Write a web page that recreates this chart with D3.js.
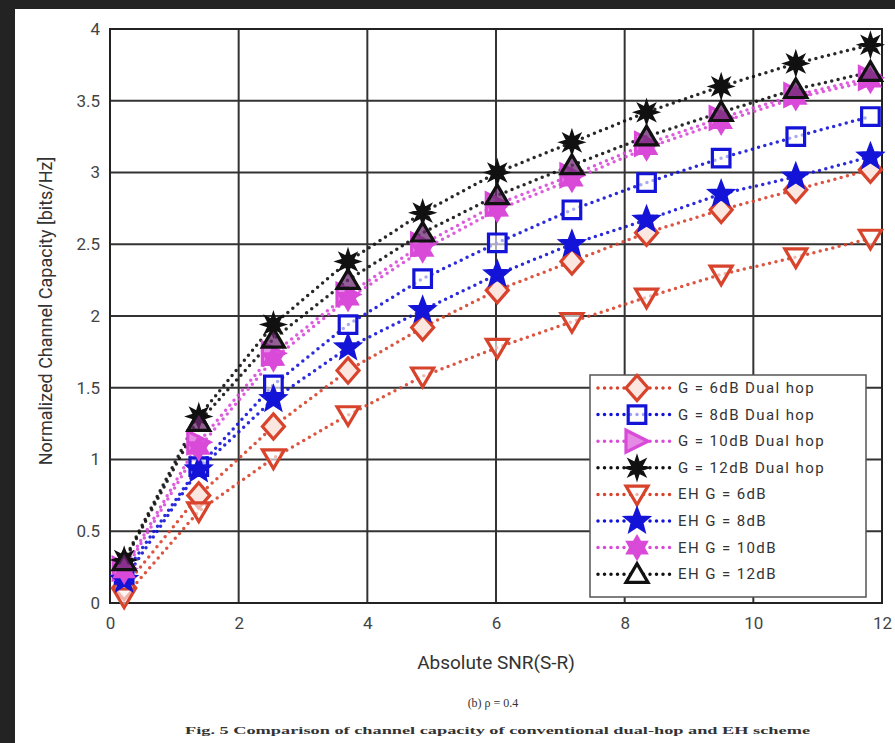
<!DOCTYPE html>
<html><head><meta charset="utf-8">
<script src="https://cdn.jsdelivr.net/npm/d3@7"></script>
<style>
html,body{margin:0;padding:0;background:#fff;}
svg{display:block;}
</style></head>
<body>
<svg id="c" width="895" height="743"></svg>
<script>
// ---- data ----
const snr = [0.22, 1.38, 2.54, 3.7, 4.86, 6.02, 7.18, 8.34, 9.5, 10.66, 11.82];
const dual6  = [0.11, 0.75, 1.23, 1.62, 1.92, 2.18, 2.38, 2.58, 2.74, 2.88, 3.02];
const dual8  = [0.20, 0.95, 1.52, 1.94, 2.26, 2.51, 2.74, 2.93, 3.10, 3.25, 3.39];
const dual10 = [0.24, 1.12, 1.74, 2.15, 2.50, 2.78, 2.98, 3.20, 3.38, 3.54, 3.66];
const dual12 = [0.30, 1.30, 1.94, 2.38, 2.72, 3.00, 3.21, 3.42, 3.60, 3.76, 3.89];
const eh6    = [0.04, 0.64, 1.01, 1.31, 1.58, 1.78, 1.96, 2.13, 2.29, 2.41, 2.54];
const eh8    = [0.16, 0.93, 1.42, 1.78, 2.04, 2.29, 2.50, 2.67, 2.85, 2.97, 3.11];
const eh10   = [0.22, 1.08, 1.70, 2.12, 2.46, 2.74, 2.95, 3.17, 3.35, 3.52, 3.64];
const eh12   = [0.29, 1.26, 1.84, 2.25, 2.58, 2.84, 3.05, 3.25, 3.42, 3.58, 3.70];
const seriesNames = ["G = 6dB Dual hop","G = 8dB Dual hop","G = 10dB Dual hop","G = 12dB Dual hop",
                     "EH G = 6dB","EH G = 8dB","EH G = 10dB","EH G = 12dB"];
const xTicks = [0, 2, 4, 6, 8, 10, 12];
const yTicks = [0, 0.5, 1, 1.5, 2, 2.5, 3, 3.5, 4];

const RED = "#d8432c", BLUE = "#1414d8", MAG = "#d94ad9", BLK = "#111";
const series = [
  {name: seriesNames[0], values: dual6,  color: RED,  marker: "diamond"},
  {name: seriesNames[1], values: dual8,  color: BLUE, marker: "square"},
  {name: seriesNames[2], values: dual10, color: MAG,  marker: "right"},
  {name: seriesNames[3], values: dual12, color: BLK,  marker: "asterisk"},
  {name: seriesNames[4], values: eh6,    color: RED,  marker: "down"},
  {name: seriesNames[5], values: eh8,    color: BLUE, marker: "star5"},
  {name: seriesNames[6], values: eh10,   color: MAG,  marker: "star6"},
  {name: seriesNames[7], values: eh12,   color: BLK,  marker: "up"}
];

const svg = d3.select("#c");
// dark frame of the photo
svg.append("rect").attr("width",895).attr("height",743).attr("fill","#232323");
svg.append("rect").attr("x",15).attr("y",9).attr("width",880).attr("height",734).attr("fill","#fff");

const L = 110, R = 882, T = 29, B = 603;
const x = d3.scaleLinear().domain([0,12]).range([L,R]);
const y = d3.scaleLinear().domain([0,4]).range([B,T]);

// grid
const g = svg.append("g");
g.selectAll(".gx").data(xTicks.slice(1,-1)).join("line")
  .attr("x1",d=>x(d)).attr("x2",d=>x(d)).attr("y1",T).attr("y2",B)
  .attr("stroke","#333").attr("stroke-width",2);
g.selectAll(".gy").data(yTicks.slice(1,-1)).join("line")
  .attr("x1",L).attr("x2",R).attr("y1",d=>y(d)).attr("y2",d=>y(d))
  .attr("stroke","#333").attr("stroke-width",2);

// axes
const fontTick = "Roboto, 'Liberation Sans', sans-serif";
const xAxis = d3.axisBottom(x).tickValues(xTicks).tickSize(0).tickPadding(14).tickFormat(d3.format("d"));
const yAxis = d3.axisLeft(y).tickValues(yTicks).tickSize(0).tickPadding(10).tickFormat(d=>d%1===0?d3.format("d")(d):d3.format(".1f")(d));
const gx = svg.append("g").attr("transform",`translate(0,${B})`).call(xAxis);
const gy = svg.append("g").attr("transform",`translate(${L},0)`).call(yAxis);
[gx,gy].forEach(a=>{
  a.select(".domain").remove();
  a.selectAll("text").attr("font-family",fontTick).attr("font-size",17).attr("fill","#444");
});
// box
svg.append("rect").attr("x",L).attr("y",T).attr("width",R-L).attr("height",B-T)
  .attr("fill","none").attr("stroke","#222").attr("stroke-width",2);

// marker shapes
function markerPath(type, s){
  const h = s/2;
  switch(type){
    case "diamond": return `M0,${-h*1.15}L${h},0L0,${h*1.15}L${-h},0Z`;
    case "square": return `M${-h*0.8},${-h*0.8}H${h*0.8}V${h*0.8}H${-h*0.8}Z`;
    case "right": return `M${h},0L${-h},${-h}L${-h},${h}Z`;
    case "down": return `M${-h},${-h*0.75}L${h},${-h*0.75}L0,${h*0.95}Z`;
    case "up": return `M${-h},${h*0.75}L${h},${h*0.75}L0,${-h*0.95}Z`;
    case "star5": { let p=""; for(let i=0;i<10;i++){const r=i%2?h*0.45:h*1.05; const a=-Math.PI/2+i*Math.PI/5; p+=(i?"L":"M")+(r*Math.cos(a)).toFixed(2)+","+(r*Math.sin(a)).toFixed(2);} return p+"Z"; }
    case "star6": { let p=""; for(let i=0;i<12;i++){const r=i%2?h*0.55:h*0.95; const a=-Math.PI/2+i*Math.PI/6; p+=(i?"L":"M")+(r*Math.cos(a)).toFixed(2)+","+(r*Math.sin(a)).toFixed(2);} return p+"Z"; }
    case "asterisk": { let p=""; for(let i=0;i<16;i++){const r=i%2?h*0.4:h*0.85; const a=-Math.PI/2+i*Math.PI/8; p+=(i?"L":"M")+(r*Math.cos(a)).toFixed(2)+","+(r*Math.sin(a)).toFixed(2);} return p+"Z"; }
  }
}
function markerStyle(sel, s, inPlot){
  const fills = {diamond:"#fbe6e0", square:"#fff", right:"#e58ae5", asterisk:BLK, down:"#fff", star5:BLUE, star6:MAG,
                 up: inPlot ? "#6e2a72" : "#fff"};
  const fop = {square:0.6, down:0.6, up: inPlot ? 0.75 : 1};
  sel.attr("d",d=>markerPath(s.marker, 22))
     .attr("fill",fills[s.marker]).attr("fill-opacity", fop[s.marker] ?? 1)
     .attr("stroke",s.color).attr("stroke-width",3.2).attr("stroke-linejoin","miter");
}

const line = d3.line().x((d,i)=>x(snr[i])).y(d=>y(d));
const plot = svg.append("g");
series.forEach(s=>{
  plot.append("path").attr("d",line(s.values)).attr("fill","none")
    .attr("stroke",s.color).attr("stroke-width",3.5).attr("stroke-linecap","round")
    .attr("stroke-dasharray","0 6.5").attr("opacity",0.9);
});
series.forEach(s=>{
  plot.append("g").selectAll("path").data(s.values).join("path")
    .attr("transform",(d,i)=>`translate(${x(snr[i])},${y(d)})`)
    .call(sel=>markerStyle(sel,s,true));
});

// legend
const lg = svg.append("g").attr("transform","translate(590,375)");
lg.append("rect").attr("width",276).attr("height",222).attr("fill","#fff")
  .attr("stroke","#555").attr("stroke-width",1.5);
series.forEach((s,i)=>{
  const yy = 13 + i*26.6;
  lg.append("line").attr("x1",8).attr("x2",86).attr("y1",yy).attr("y2",yy)
    .attr("stroke",s.color).attr("stroke-width",3.5).attr("stroke-linecap","round")
    .attr("stroke-dasharray","0 6.5");
  lg.append("path").attr("transform",`translate(47,${yy})`).call(sel=>markerStyle(sel,s,false));
  lg.append("text").attr("x",88).attr("y",yy+5).text(s.name)
    .attr("font-family",fontTick).attr("font-size",15).attr("letter-spacing",1.4).attr("fill","#333");
});

// axis titles
svg.append("text").attr("x",(L+R)/2).attr("y",669).attr("text-anchor","middle")
  .attr("font-family",fontTick).attr("font-size",19).attr("fill","#333").text("Absolute SNR(S-R)");
svg.append("text").attr("transform",`translate(52,${(T+B)/2-5}) rotate(-90)`).attr("text-anchor","middle")
  .attr("font-family",fontTick).attr("font-size",18).attr("fill","#333").text("Normalized Channel Capacity [bits/Hz]");

// captions
svg.append("text").attr("x",493).attr("y",707).attr("text-anchor","middle")
  .attr("font-family","'Liberation Serif', serif").attr("font-size",12).attr("fill","#333")
  .text("(b)  ρ = 0.4");
svg.append("text").attr("x",185).attr("y",734).attr("textLength",625).attr("lengthAdjust","spacingAndGlyphs")
  .attr("font-family","'Liberation Serif', serif").attr("font-weight","bold").attr("font-size",11).attr("fill","#333")
  .text("Fig. 5 Comparison of channel capacity of conventional dual-hop and EH scheme");
</script>
</body></html>
